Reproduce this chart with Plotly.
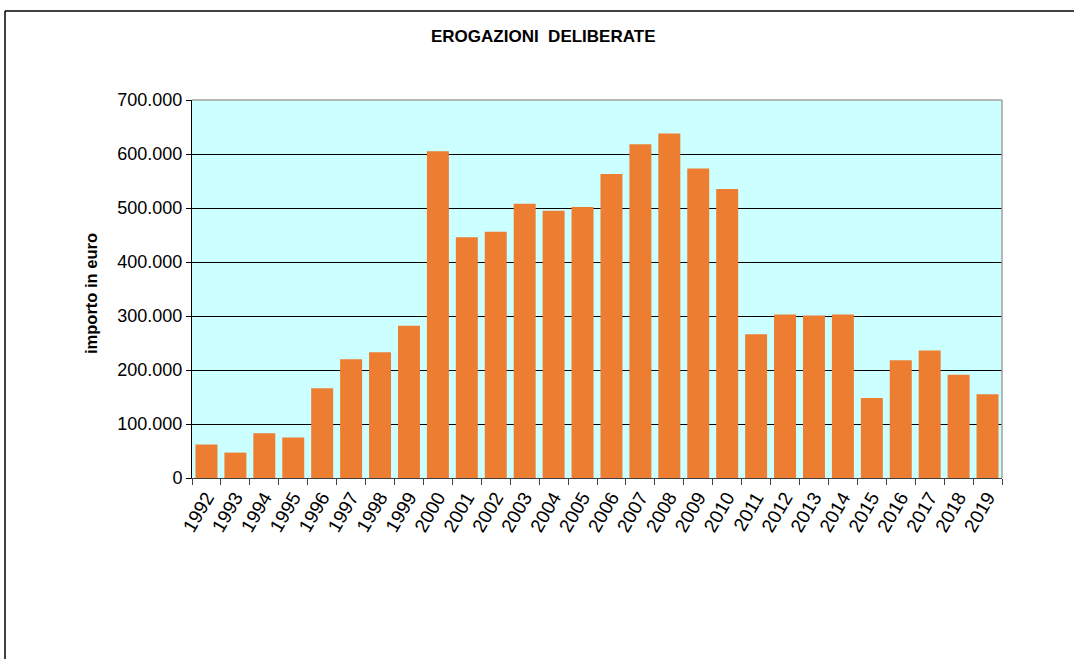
import plotly.graph_objects as go

years = [str(y) for y in range(1992, 2020)]
values = [62000, 47000, 83000, 75000, 166000, 220000, 233000, 282000, 605000,
          446000, 456000, 508000, 495000, 502000, 563000, 618000, 638000,
          573000, 535000, 266000, 303000, 301000, 303000, 148000, 218000,
          236000, 191000, 155000]
title_text = "EROGAZIONI  DELIBERATE"
y_title = "importo in euro"
y_ticks = [0, 100000, 200000, 300000, 400000, 500000, 600000, 700000]

W, H = 1074, 659
L, R, T, B = 192, 1002, 100, 478

fig = go.Figure(go.Bar(
    x=years, y=values,
    marker=dict(color="#ED7D31", line=dict(width=0)),
    hoverinfo="x+y",
))

def px(xp):
    return (xp - L) / (R - L)

def py(yp):
    return (B - yp) / (B - T)

fig.update_layout(
    width=W, height=H,
    margin=dict(l=L, r=W - R, t=T, b=H - B, pad=0),
    paper_bgcolor="white",
    plot_bgcolor="#CCFFFF",
    separators=",.",
    bargap=0.24,
    showlegend=False,
    font=dict(family="Liberation Sans, Arial, sans-serif", color="black"),
    xaxis=dict(
        type="category",
        tickangle=-60,
        tickfont=dict(size=19),
        ticks="outside", ticklen=6, tickcolor="#404040",
        tickson="boundaries",
        showline=True, linecolor="#404040", linewidth=1,
        showgrid=False,
    ),
    yaxis=dict(
        range=[0, 700000],
        tickvals=y_ticks,
        tickformat=",d",
        tickfont=dict(size=18),
        ticks="outside", ticklen=5, tickcolor="black",
        showline=True, linecolor="black", linewidth=1,
        showgrid=True, gridcolor="black", gridwidth=1,
        zeroline=False,
    ),
    annotations=[
        dict(text="<b>" + title_text + "</b>", xref="paper", yref="paper",
             x=px(543), y=py(37), xanchor="center", yanchor="middle",
             showarrow=False, font=dict(size=17)),
        dict(text="<b>" + y_title + "</b>", xref="paper", yref="paper",
             x=px(91), y=py(294), xanchor="center", yanchor="middle",
             textangle=-90, showarrow=False, font=dict(size=16.5)),
    ],
    shapes=[
        dict(type="line", xref="paper", yref="paper", x0=0, x1=1, y0=1, y1=1,
             line=dict(color="#A0A0A0", width=1.5)),
        dict(type="line", xref="paper", yref="paper", x0=1, x1=1, y0=0, y1=1,
             line=dict(color="#A0A0A0", width=1.5)),
        dict(type="line", xref="paper", yref="paper", x0=px(5), x1=px(1074),
             y0=py(11), y1=py(11), line=dict(color="black", width=1.5)),
        dict(type="line", xref="paper", yref="paper", x0=px(5), x1=px(5),
             y0=py(11), y1=py(660), line=dict(color="black", width=1.5)),
    ],
)

fig.write_html("out.html",
               config={"displayModeBar": False},
               post_script="document.body.style.margin='0';document.body.style.overflow='hidden';")
